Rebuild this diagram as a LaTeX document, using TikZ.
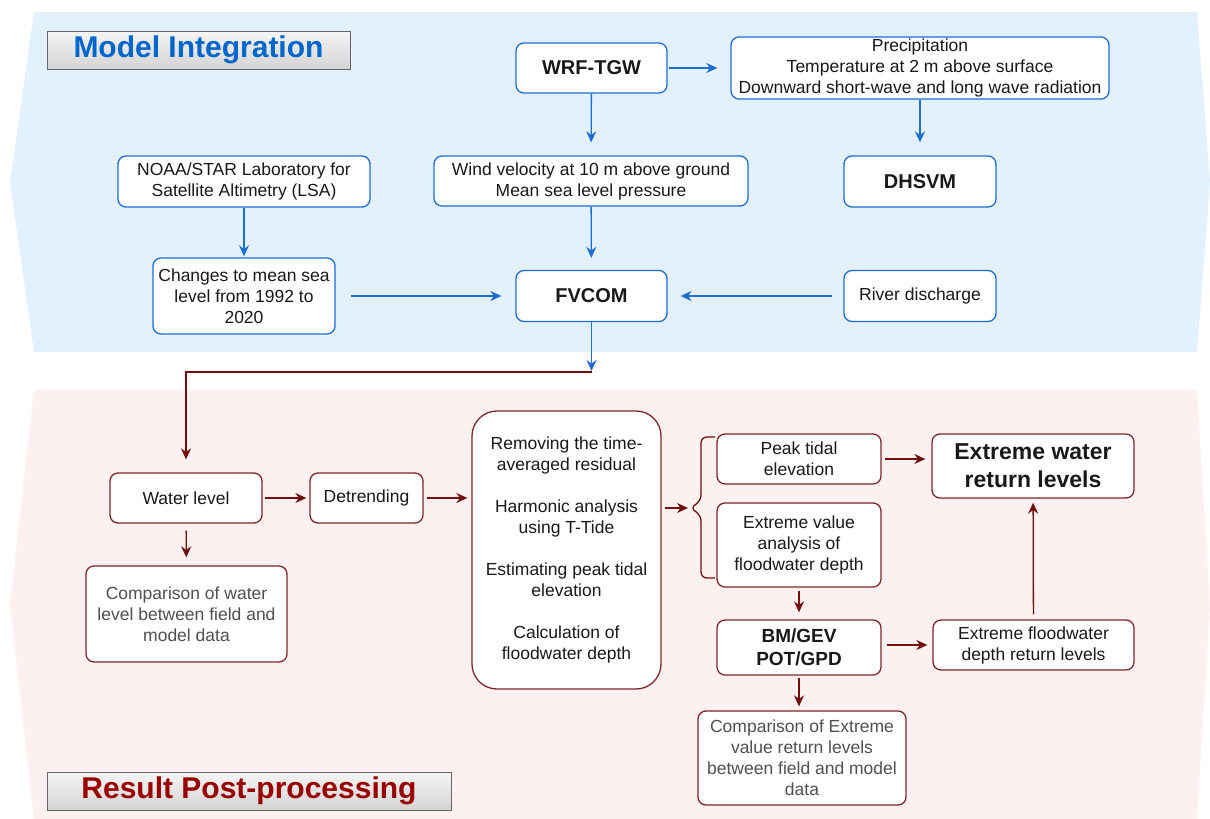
\documentclass[tikz,border=0pt]{standalone}
\usepackage{fontspec}
\setmainfont{Liberation Sans}
\usetikzlibrary{arrows.meta}

\definecolor{miblue}{RGB}{30,110,208}
\definecolor{mibg}{RGB}{227,240,253}
\definecolor{prred}{RGB}{112,16,16}
\definecolor{prline}{RGB}{125,40,40}
\definecolor{prbg}{RGB}{252,240,240}
\definecolor{titleblue}{RGB}{0,102,204}
\definecolor{titlered}{RGB}{153,0,0}
\definecolor{txtgray}{RGB}{80,80,80}

\begin{document}
\begin{tikzpicture}[x=1pt,y=-1pt,
  every node/.style={font=\fontsize{17.5}{21}\selectfont, align=center, inner sep=0pt, text=black!90},
  mibox/.style={draw=miblue, line width=1.3pt, fill=white, rounded corners=8pt},
  prbox/.style={draw=prline, line width=1.3pt, fill=white, rounded corners=8pt},
  boldlbl/.style={font=\fontsize{20}{24}\selectfont\bfseries},
  miarrow/.style={draw=miblue, line width=1.3pt, -{Stealth[length=11pt,width=10pt]}},
  prarrow/.style={draw=prred, line width=1.3pt, -{Stealth[length=11pt,width=10pt]}},
  titlebox/.style={draw=black!60, line width=1pt, top color=white!96!black, bottom color=black!17,
    font=\fontsize{30}{36}\selectfont\bfseries}]
\useasboundingbox (0,0) rectangle (1210,819);

% background bands
\fill [mibg] (34,12) -- (1197,12) -- (1210,182) -- (1197,352) -- (34,352) -- (10,182) -- cycle;
\fill [prbg] (34,390) -- (1197,390) -- (1210,605) -- (1197,819) -- (34,819) -- (10,605) -- cycle;

% model integration
\path (198.5,50) node[titlebox,minimum width=303,minimum height=38,text=titleblue] (titlemi) {Model Integration};
\path (591.5,68) node[mibox,boldlbl,minimum width=151,minimum height=50] (wrf) {WRF-TGW};
\path (920,68) node[mibox,minimum width=378,minimum height=62] (precip) {Precipitation\\Temperature at 2 m above surface\\Downward short-wave and long wave radiation};
\path (244,181.5) node[mibox,minimum width=252,minimum height=51] (noaa) {NOAA/STAR Laboratory for\\Satellite Altimetry (LSA)};
\path (591,181) node[mibox,minimum width=314,minimum height=50] (wind) {Wind velocity at 10 m above ground\\Mean sea level pressure};
\path (920,181.5) node[mibox,boldlbl,minimum width=152,minimum height=51] (dhsvm) {DHSVM};
\path (244,296) node[mibox,minimum width=182,minimum height=76] (changes) {Changes to mean sea\\level from 1992 to\\2020};
\path (591.5,296) node[mibox,boldlbl,minimum width=151,minimum height=51] (fvcom) {FVCOM};
\path (920,296) node[mibox,minimum width=152,minimum height=51] (river) {River discharge};
\coordinate (fork) at (591.5,372);

\draw [miarrow,shorten <=1pt,shorten >=13pt] (wrf) -- (precip);
\draw [miarrow,shorten >=13pt] (wrf) -- (wind);
\draw [miarrow,shorten >=13pt] (precip) -- (dhsvm);
\draw [miarrow,shorten >=1pt] (noaa) -- (changes);
\draw [miarrow,shorten >=12pt] (wind) -- (fvcom);
\draw [miarrow,shorten <=15pt,shorten >=14pt] (changes) -- (fvcom);
\draw [miarrow,shorten <=11pt,shorten >=13pt] (river) -- (fvcom);
\draw [miarrow,shorten >=1pt] (fvcom) -- (fork);

% result post-processing
\path (249,791) node[titlebox,minimum width=404,minimum height=38,text=titlered] (titlepr) {Result Post-processing};
\path (186,498) node[prbox,minimum width=152,minimum height=50] (water) {Water level};
\path (366.5,498) node[prbox,minimum width=113,minimum height=50] (detrend) {Detrending};
\path (186.5,614) node[prbox,minimum width=201,minimum height=96,text=txtgray] (compwl) {Comparison of water\\level between field and\\model data};
\path (566.5,550) node[prbox,rounded corners=25pt,minimum width=189,minimum height=278] (steps)
  {Removing the time-\\averaged residual\\[21pt]Harmonic analysis\\using T-Tide\\[21pt]Estimating peak tidal\\elevation\\[21pt]Calculation of\\floodwater depth};
\path (799,459) node[prbox,minimum width=164,minimum height=50] (peak) {Peak tidal\\elevation};
\path (799,545) node[prbox,minimum width=164,minimum height=84] (evana) {Extreme value\\analysis of\\floodwater depth};
\path (1033,466) node[prbox,minimum width=202,minimum height=64,font=\fontsize{23}{28}\selectfont\bfseries] (extwater) {Extreme water\\return levels};
\path (799,647.5) node[prbox,minimum width=164,minimum height=55,font=\fontsize{19}{23}\selectfont\bfseries] (bmgev) {BM/GEV\\POT/GPD};
\path (1033.5,645) node[prbox,minimum width=201,minimum height=50] (extflood) {Extreme floodwater\\depth return levels};
\path (802,758) node[prbox,minimum width=208,minimum height=94,text=txtgray] (compev) {Comparison of Extreme\\value return levels\\between field and model\\data};
\coordinate (brtip) at (690,508);

\draw [prred,line width=1.3pt,rounded corners=6pt] (715,437) -- (701,437) -- (701,501) -- (brtip) -- (701,515) -- (701,578) -- (715,578);
\draw [prarrow,shorten >=13pt] (fork) -| (water);
\draw [prarrow,shorten <=2pt,shorten >=3pt] (water) -- (detrend);
\draw [prarrow,shorten <=3pt,shorten >=4pt] (detrend) -- (detrend -| steps.west);
\draw [prarrow,shorten <=7pt,shorten >=8pt] (water) -- (compwl);
\draw [prarrow,shorten <=3pt,shorten >=2pt] (steps.east |- brtip) -- (brtip);
\draw [prarrow,shorten <=3pt,shorten >=6pt] (peak) -- (peak -| extwater.west);
\draw [prarrow,shorten <=3pt,shorten >=7pt] (evana) -- (bmgev);
\draw [prarrow,shorten <=5pt,shorten >=5pt] (extflood -| bmgev.east) -- (extflood);
\draw [prarrow,shorten <=2pt,shorten >=4pt] (bmgev) -- (bmgev |- compev.north);
\draw [prarrow,shorten <=5pt,shorten >=4pt] (extflood) -- (extwater);
\end{tikzpicture}
\end{document}
